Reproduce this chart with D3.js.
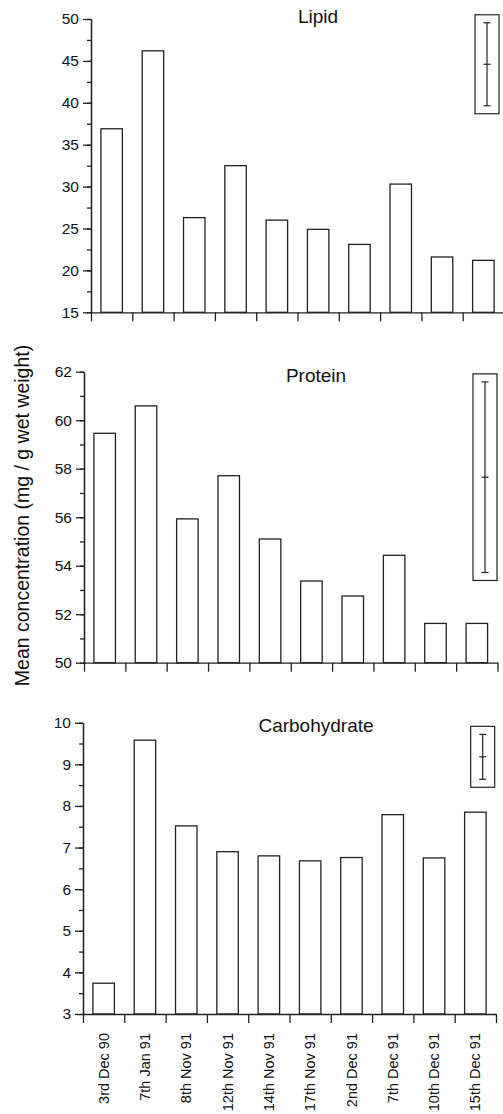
<!DOCTYPE html>
<html>
<head>
<meta charset="utf-8">
<script src="https://cdn.jsdelivr.net/npm/d3@7"></script>
<style>
  body { margin: 0; background: #fff; }
  svg { display: block; font-family: "Liberation Sans", Arial, Helvetica, sans-serif; }
  .axis path, .axis line { stroke: #222; stroke-width: 1.3; }
  .axis text { fill: #111; font-size: 15.5px; }
  .bar { fill: #fff; stroke: #222; stroke-width: 1.3; }
  .err line, .err rect { stroke: #222; stroke-width: 1.2; fill: none; }
  .title { font-size: 19px; fill: #111; }
</style>
</head>
<body>
<div id="plot"></div>
<script>
// sampling dates (x categories)
const dates = ['3rd Dec 90', '7th Jan 91', '8th Nov 91', '12th Nov 91', '14th Nov 91',
               '17th Nov 91', '2nd Dec 91', '7th Dec 91', '10th Dec 91', '15th Dec 91'];
// mean concentrations, mg / g wet weight
const lipid = [36.9, 46.2, 26.3, 32.5, 26.0, 24.9, 23.1, 30.3, 21.6, 21.2];
const protein = [59.46, 60.59, 55.93, 57.71, 55.1, 53.37, 52.75, 54.43, 51.62, 51.62];
const carbohydrate = [3.74, 9.58, 7.52, 6.9, 6.8, 6.68, 6.76, 7.79, 6.75, 7.85];
const titles = ['Lipid', 'Protein', 'Carbohydrate'];
const yDomains = [[15, 50], [50, 62], [3, 10]];
const majorSteps = [5, 2, 1];
const minorSteps = [2.5, 1, 0.5];
// error bar key drawn in the top right corner of each panel
const errCentres = [44.6, 57.65, 9.18];
const errHalves = [4.95, 3.93, 0.54];

const series = [lipid, protein, carbohydrate];

// pixel layout of the three stacked panels
const layout = [
  {x0: 91, x1: 504, top: 19, bottom: 312.3, errX: 487, titleX: 318, titleY: 23},
  {x0: 84, x1: 497.5, top: 371.7, bottom: 662.7, errX: 485, titleX: 316, titleY: 382},
  {x0: 83, x1: 496, top: 722.7, bottom: 1014, errX: 482.7, titleX: 316, titleY: 731.7}
];

const width = 503, height = 1114;
const svg = d3.select('#plot')
      .append('svg')
      .attr('width', width)
      .attr('height', height);

function ticksFor(domain, step) {
  const n = Math.round((domain[1] - domain[0]) / step);
  return d3.range(n + 1).map(i => +(domain[0] + i * step).toFixed(4));
}

series.forEach((values, p) => {
  const L = layout[p];
  const g = svg.append('g');
  const x = d3.scaleBand()
        .domain(dates)
        .range([L.x0, L.x1])
        .paddingInner(0.48)
        .paddingOuter(0.24);
  const xEdges = d3.scaleLinear()
        .domain([0, dates.length])
        .range([L.x0, L.x1]);
  const y = d3.scaleLinear()
        .domain(yDomains[p])
        .range([L.bottom, L.top]);

  // Bars
  g.selectAll('.bar')
    .data(values)
    .enter().append('rect')
    .attr('class', 'bar')
    .attr('x', (_, i) => x(dates[i]))
    .attr('width', x.bandwidth())
    .attr('y', d => y(d))
    .attr('height', d => y(yDomains[p][0]) - y(d));

  // Minor y ticks
  g.append('g')
    .attr('class', 'axis')
    .attr('transform', `translate(${L.x0},0)`)
    .call(d3.axisLeft(y)
          .tickValues(ticksFor(yDomains[p], minorSteps[p]))
          .tickSize(4)
          .tickSizeOuter(0)
          .tickFormat(''));
  // Major y ticks with labels
  g.append('g')
    .attr('class', 'axis')
    .attr('transform', `translate(${L.x0},0)`)
    .call(d3.axisLeft(y)
          .tickValues(ticksFor(yDomains[p], majorSteps[p]))
          .tickSize(8)
          .tickPadding(4)
          .tickSizeOuter(0)
          .tickFormat(d3.format('d')));

  // X axis: ticks at category boundaries
  g.append('g')
    .attr('class', 'axis')
    .attr('transform', `translate(0,${L.bottom})`)
    .call(d3.axisBottom(xEdges)
          .tickValues(d3.range(dates.length + 1))
          .tickSize(9)
          .tickSizeOuter(0)
          .tickFormat(''));

  // Date labels only under the bottom panel
  if (p === series.length - 1) {
    const lab = g.append('g')
          .attr('class', 'axis')
          .attr('transform', `translate(0,${L.bottom + 19})`)
          .call(d3.axisBottom(x).tickSize(0).tickPadding(0));
    lab.select('.domain').remove();
    lab.selectAll('text')
      .attr('transform', 'rotate(-90)')
      .attr('text-anchor', 'end')
      .attr('x', 0)
      .attr('y', 0)
      .attr('dy', '0.35em')
      .style('font-size', '14.5px');
  }

  // Panel title
  g.append('text')
    .attr('class', 'title')
    .attr('x', L.titleX)
    .attr('y', L.titleY)
    .attr('text-anchor', 'middle')
    .text(titles[p]);

  // Error bar key
  const hi = y(errCentres[p] + errHalves[p]);
  const lo = y(errCentres[p] - errHalves[p]);
  const mid = y(errCentres[p]);
  const e = g.append('g').attr('class', 'err');
  e.append('rect')
    .attr('x', L.errX - 12)
    .attr('width', 24)
    .attr('y', hi - 8)
    .attr('height', lo - hi + 16);
  e.append('line')
    .attr('x1', L.errX).attr('x2', L.errX)
    .attr('y1', hi).attr('y2', lo);
  for (const v of [hi, mid, lo]) {
    e.append('line')
      .attr('x1', L.errX - 3.5).attr('x2', L.errX + 3.5)
      .attr('y1', v).attr('y2', v);
  }
});

// Shared y axis title
svg.append('text')
  .attr('class', 'title')
  .attr('transform', 'translate(29,515.5) rotate(-90)')
  .attr('text-anchor', 'middle')
  .style('font-size', '19.5px')
  .text('Mean concentration (mg / g wet weight)');
</script>
</body>
</html>
